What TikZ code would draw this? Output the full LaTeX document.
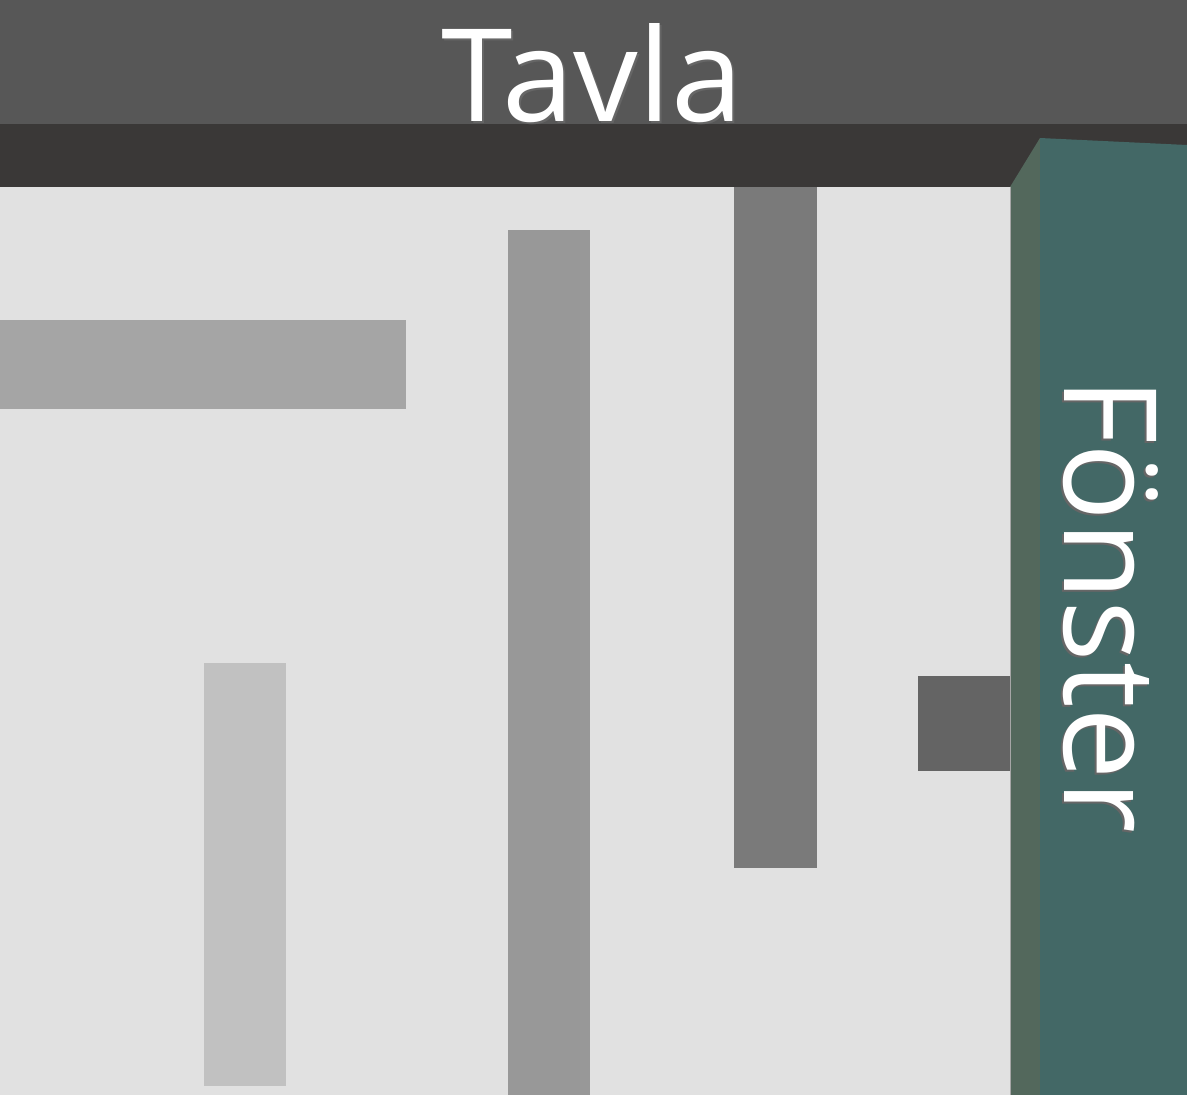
\documentclass[tikz,border=0pt]{standalone}
\usepackage{fontspec}
\setmainfont{Open Sans}
\definecolor{floor}{HTML}{E1E1E1}
\definecolor{topband}{HTML}{575757}
\definecolor{darkband}{HTML}{3A3837}
\definecolor{winfront}{HTML}{436866}
\definecolor{winside}{HTML}{53685C}
\definecolor{deskA}{HTML}{A5A5A5}
\definecolor{deskB}{HTML}{989898}
\definecolor{deskC}{HTML}{7A7A7A}
\definecolor{deskD}{HTML}{C1C1C1}
\definecolor{deskE}{HTML}{646464}
\tikzset{
  block/.style={draw=none},
  label text/.style={text=white, inner sep=0pt, font=\fontsize{129}{130}\selectfont},
  shadow text/.style={text=black!60, inner sep=0pt, font=\fontsize{129}{130}\selectfont}
}
\begin{document}
\begin{tikzpicture}[x=1pt,y=-1pt]
\useasboundingbox (0,0) rectangle (1187,1095);
% floor
\fill[floor] (0,187) rectangle (1010,1095);
% board bands
\fill[topband] (0,0) rectangle (1187,124);
\fill[darkband] (0,124) rectangle (1187,187);
% window
\fill[winside] (1010,187) -- (1040,138) -- (1040,1095) -- (1010,1095) -- cycle;
\fill[winfront] (1040,138) -- (1187,145) -- (1187,1095) -- (1040,1095) -- cycle;
\draw[gray!70, line width=0.8pt] (1010.4,187) -- (1010.4,1095);
% desks
\fill[deskA] (0,320) rectangle (406,409);
\fill[deskB] (508,230) rectangle (590,1095);
\fill[deskC] (734,187) rectangle (817,868);
\fill[deskD] (204,663) rectangle (286,1086);
\fill[deskE] (918,676) rectangle (1010,771);
% labels
\node[shadow text, anchor=base] (tavlashadow) at (594,123) {Tavla};
\node[label text, anchor=base] (tavla) at (592,121) {Tavla};
\node[shadow text, rotate=-90, anchor=base west] (fonstershadow) at (1062,379) {Fönster};
\node[label text, rotate=-90, anchor=base west] (fonster) at (1064,377) {Fönster};
\end{tikzpicture}
\end{document}
